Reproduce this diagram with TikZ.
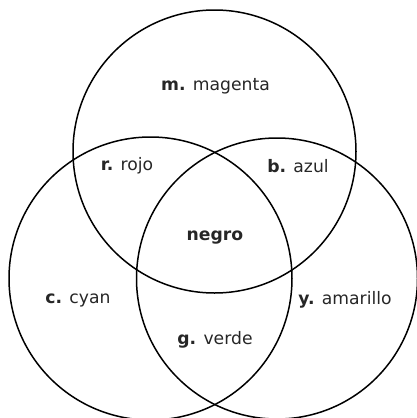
\documentclass[tikz,border=0pt]{standalone}
\usepackage{fontspec}
\setmainfont{DejaVu Sans}
\begin{document}
\begin{tikzpicture}[x=1pt,y=-1pt,
  ring/.style={draw=black,line width=1.5pt},
  lab/.style={font=\fontsize{17.2}{19}\selectfont,text=black!85,inner sep=0pt,anchor=center}]
\useasboundingbox (0,0) rectangle (417,418);
\begin{scope}
\clip (0,0) rectangle (417,418);
\draw[ring] (214.5,151.5) circle (141.5);
\draw[ring] (150.5,278.5) circle (141.5);
\draw[ring] (277,278.5) circle (140.5);
\end{scope}
\node[lab] (m) at (215.5,86) {\textbf{m.} magenta};
\node[lab] (r) at (127,166) {\textbf{r.} rojo};
\node[lab] (b) at (298,166) {\textbf{b.} azul};
\node[lab] (k) at (215,238) {\textbf{negro}};
\node[lab] (c) at (78,300) {\textbf{c.} cyan};
\node[lab] (y) at (345,300) {\textbf{y.} amarillo};
\node[lab] (g) at (215,340) {\textbf{g.} verde};
\end{tikzpicture}
\end{document}
